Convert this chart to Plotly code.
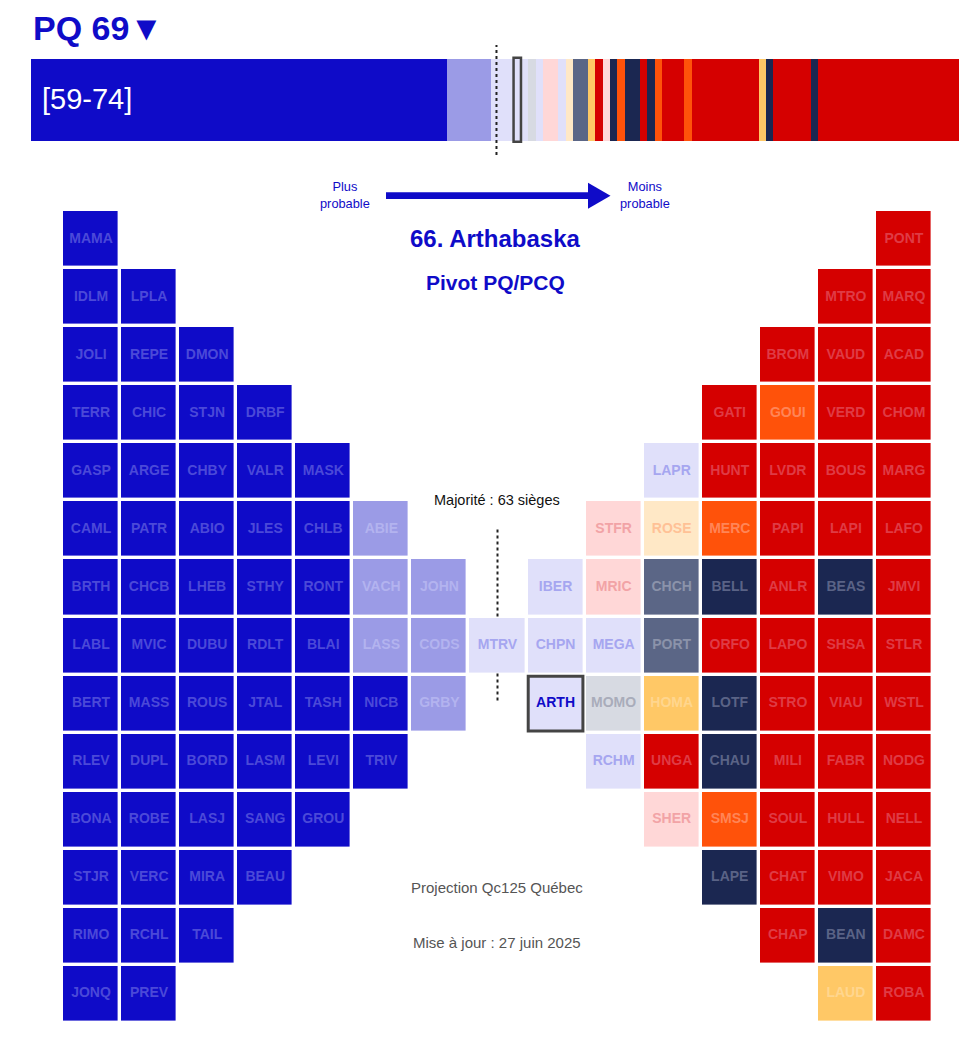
import plotly.graph_objects as go

W, H = 971, 1046
FONT = "Arial, Liberation Sans, sans-serif"
BLUE = "#0f0bc8"

# ---- categories -------------------------------------------------------
cat_codes = ["PQ", "PQ_prob", "PQ_pen", "Incert", "PLQ_pen", "PLQ",
             "QS_pen", "PCQ_prob", "PCQ", "QS", "QS_prob"]
cat_fill = ["#0f0bc8", "#9b9be6", "#e0e0fa", "#d7dae2", "#ffd7d7", "#d50000",
            "#ffe8c6", "#5b6686", "#1b2751", "#ff520a", "#ffc866"]
cat_text = ["#4b49d8", "#b3b3ef", "#a6a6f0", "#a9acba", "#f2a3a6", "#df3b45",
            "#ffc196", "#8b93aa", "#5a6386", "#ff8557", "#ffd68e"]

# ---- top bar: seats ordered from most to least probable ---------------
bar_codes = ["PQ", "PQ_prob", "PQ_pen", "Incert", "PQ_pen", "PLQ_pen", "PQ_pen",
             "QS_pen", "PCQ_prob", "QS_prob", "PLQ", "PLQ_pen", "PCQ", "QS", "PCQ",
             "PLQ", "PCQ", "QS", "PLQ", "QS", "PLQ", "QS_prob", "PCQ", "PLQ", "PCQ", "PLQ"]
bar_counts = [56, 6, 5, 1, 1, 2, 1, 1, 2, 1, 1, 1, 1, 1, 2, 1, 1, 1, 3, 1, 9, 1, 1, 5, 1, 19]

total_seats = 125
majority = 63
pivot_rank = 66
pivot_label = "ARTH"
pivot_name = "Arthabaska"
pivot_note = "Pivot PQ/PCQ"
headline = "PQ 69▼"
interval = "[59-74]"

# ---- seat grid (columns, top to bottom) -------------------------------
grid_labels = [
    ["MAMA", "IDLM", "JOLI", "TERR", "GASP", "CAML", "BRTH", "LABL", "BERT", "RLEV", "BONA", "STJR", "RIMO", "JONQ"],
    ["LPLA", "REPE", "CHIC", "ARGE", "PATR", "CHCB", "MVIC", "MASS", "DUPL", "ROBE", "VERC", "RCHL", "PREV"],
    ["DMON", "STJN", "CHBY", "ABIO", "LHEB", "DUBU", "ROUS", "BORD", "LASJ", "MIRA", "TAIL"],
    ["DRBF", "VALR", "JLES", "STHY", "RDLT", "JTAL", "LASM", "SANG", "BEAU"],
    ["MASK", "CHLB", "RONT", "BLAI", "TASH", "LEVI", "GROU"],
    ["ABIE", "VACH", "LASS", "NICB", "TRIV"],
    ["JOHN", "CODS", "GRBY"],
    ["MTRV"],
    ["IBER", "CHPN", "ARTH"],
    ["STFR", "MRIC", "MEGA", "MOMO", "RCHM"],
    ["LAPR", "ROSE", "CHCH", "PORT", "HOMA", "UNGA", "SHER"],
    ["GATI", "HUNT", "MERC", "BELL", "ORFO", "LOTF", "CHAU", "SMSJ", "LAPE"],
    ["BROM", "GOUI", "LVDR", "PAPI", "ANLR", "LAPO", "STRO", "MILI", "SOUL", "CHAT", "CHAP"],
    ["MTRO", "VAUD", "VERD", "BOUS", "LAPI", "BEAS", "SHSA", "VIAU", "FABR", "HULL", "VIMO", "BEAN", "LAUD"],
    ["PONT", "MARQ", "ACAD", "CHOM", "MARG", "LAFO", "JMVI", "STLR", "WSTL", "NODG", "NELL", "JACA", "DAMC", "ROBA"],
]
grid_cats = [
    ["PQ"] * 14,
    ["PQ"] * 13,
    ["PQ"] * 11,
    ["PQ"] * 9,
    ["PQ"] * 7,
    ["PQ_prob", "PQ_prob", "PQ_prob", "PQ", "PQ"],
    ["PQ_prob", "PQ_prob", "PQ_prob"],
    ["PQ_pen"],
    ["PQ_pen", "PQ_pen", "PQ_pen"],
    ["PLQ_pen", "PLQ_pen", "PQ_pen", "Incert", "PQ_pen"],
    ["PQ_pen", "QS_pen", "PCQ_prob", "PCQ_prob", "QS_prob", "PLQ", "PLQ_pen"],
    ["PLQ", "PLQ", "QS", "PCQ", "PLQ", "PCQ", "PCQ", "QS", "PCQ"],
    ["PLQ", "QS", "PLQ", "PLQ", "PLQ", "PLQ", "PLQ", "PLQ", "PLQ", "PLQ", "PLQ"],
    ["PLQ", "PLQ", "PLQ", "PLQ", "PLQ", "PCQ", "PLQ", "PLQ", "PLQ", "PLQ", "PLQ", "PCQ", "QS_prob"],
    ["PLQ"] * 14,
]

# ---- helpers ------------------------------------------------------------
idx = {c: i for i, c in enumerate(cat_codes)}
N = len(cat_codes)
cscale = []
for i, c in enumerate(cat_fill):
    cscale += [[i / N, c], [(i + 1) / N, c]]


def px(x):
    return x / W


def py(y):
    return 1 - y / H


# bar seats
bar_seats = []
for code, n in zip(bar_codes, bar_counts):
    bar_seats += [idx[code]] * n

ncols = len(grid_labels)
nrows = max(len(c) for c in grid_labels)
z = [[None] * ncols for _ in range(nrows)]
tx, ty, tt, tc = [], [], [], []
pivot_pos = None
for ci, (labs, cats) in enumerate(zip(grid_labels, grid_cats)):
    start = min(ci, ncols - 1 - ci)
    for k, (lab, cat) in enumerate(zip(labs, cats)):
        r = start + k
        z[r][ci] = idx[cat]
        tx.append(ci)
        ty.append(r)
        tt.append("<b>%s</b>" % lab)
        if lab == pivot_label:
            tc.append(BLUE)
            pivot_pos = (ci, r)
        else:
            tc.append(cat_text[idx[cat]])

fig = go.Figure()

fig.add_trace(go.Heatmap(
    x=[i + 0.5 for i in range(total_seats)], y=[0], z=[bar_seats],
    zmin=-0.5, zmax=N - 0.5, colorscale=cscale, showscale=False,
    hoverinfo="skip", xaxis="x", yaxis="y"))

fig.add_trace(go.Heatmap(
    x=list(range(ncols)), y=list(range(nrows)), z=z,
    zmin=-0.5, zmax=N - 0.5, colorscale=cscale, showscale=False,
    xgap=3.4, ygap=3.4, hoverinfo="skip", xaxis="x2", yaxis="y2"))

fig.add_trace(go.Scatter(
    x=tx, y=ty, text=tt, mode="text",
    textfont=dict(family=FONT, size=14, color=tc),
    hoverinfo="skip", xaxis="x2", yaxis="y2", showlegend=False))

shapes = []
# majority line on bar
shapes.append(dict(type="line", xref="x", yref="paper", x0=majority - 0.3, x1=majority - 0.3,
                   y0=py(155), y1=py(45), line=dict(color="#222", width=2, dash="dot")))
# pivot box on bar
shapes.append(dict(type="rect", xref="x", yref="paper", x0=pivot_rank - 1, x1=pivot_rank,
                   y0=py(141.7), y1=py(57.7), line=dict(color="#444", width=2.5)))
# majority line on grid
mid = (ncols - 1) / 2
shapes.append(dict(type="line", xref="x2", yref="y2", x0=mid, x1=mid, y0=5, y1=8,
                   layer="below", line=dict(color="#222", width=2, dash="dot")))
# pivot box on grid
h = 0.471
shapes.append(dict(type="rect", xref="x2", yref="y2",
                   x0=pivot_pos[0] - h, x1=pivot_pos[0] + h,
                   y0=pivot_pos[1] - h, y1=pivot_pos[1] + h,
                   line=dict(color="#444", width=3)))
# arrow
shapes.append(dict(type="line", xref="paper", yref="paper", x0=px(386), x1=px(592),
                   y0=py(195.7), y1=py(195.7), line=dict(color=BLUE, width=6.7)))
shapes.append(dict(type="path", xref="paper", yref="paper",
                   path="M %f,%f L %f,%f L %f,%f Z" % (px(588), py(182.7), px(610.5), py(195.7), px(588), py(208.7)),
                   fillcolor=BLUE, line=dict(color=BLUE, width=0)))

ann = []


def A(text, x, y, size, color, xanchor="center", xref="paper", yref="paper"):
    ann.append(dict(text=text, x=x, y=y, xref=xref, yref=yref, xanchor=xanchor,
                    yanchor="middle", showarrow=False,
                    font=dict(family=FONT, size=size, color=color)))


A("<b>%s</b>" % headline, px(31), py(28.5), 34, BLUE, xanchor="left")
A(interval, px(39.5), py(99), 29, "white", xanchor="left")
A("Plus<br>probable", px(345), py(194.5), 12.8, BLUE)
A("Moins<br>probable", px(645), py(194.5), 12.8, BLUE)
A("<b>%d. %s</b>" % (pivot_rank, pivot_name), px(495), py(238.5), 24, BLUE)
A("<b>%s</b>" % pivot_note, px(495), py(282), 21, BLUE)
A("Majorité : %d sièges" % majority, px(497), py(500.5), 14.5, "#111")
A("Projection Qc125 Québec", px(497), py(887.5), 15, "#555")
A("Mise à jour : 27 juin 2025", px(497), py(942.5), 15, "#555")

fig.update_layout(
    width=W, height=H, margin=dict(l=0, r=0, t=0, b=0),
    paper_bgcolor="white", plot_bgcolor="white", showlegend=False,
    xaxis=dict(domain=[px(31), px(959)], range=[0, total_seats], visible=False, fixedrange=True),
    yaxis=dict(domain=[py(141), py(59)], range=[-0.5, 0.5], visible=False, fixedrange=True),
    xaxis2=dict(domain=[px(62), px(933)], range=[-0.5, ncols - 0.5], visible=False, fixedrange=True),
    yaxis2=dict(domain=[py(1023), py(210)], range=[nrows - 0.5, -0.5], visible=False, fixedrange=True),
    shapes=shapes, annotations=ann,
)

fig.write_html("out.html", config={"displayModeBar": False},
               post_script="document.body.style.margin='0';document.body.style.overflow='hidden';")
